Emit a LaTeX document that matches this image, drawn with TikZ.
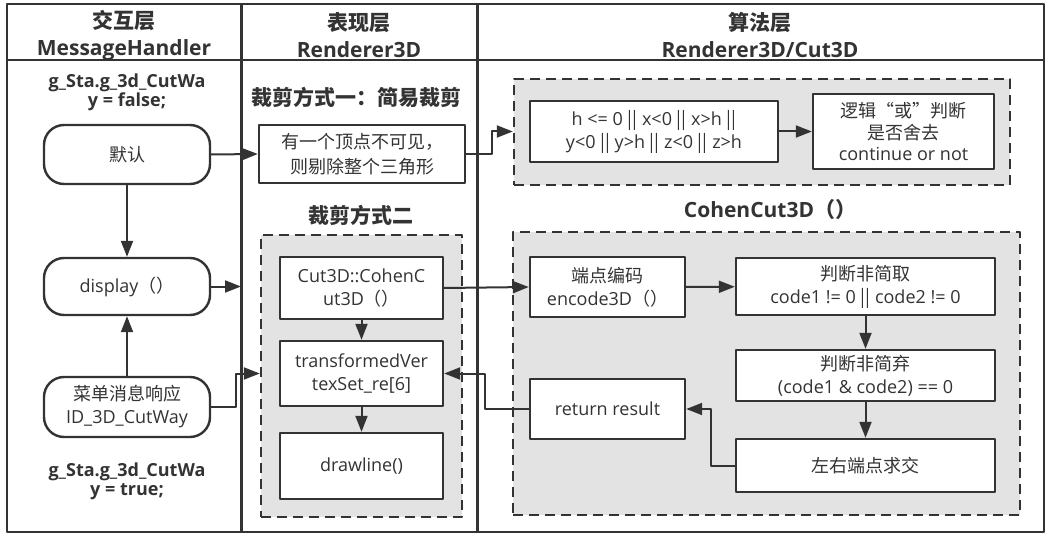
\documentclass[tikz,border=0pt]{standalone}
\usepackage{fontspec}
\setmainfont{Open Sans}
\newfontfamily\cjk{Noto Sans CJK SC}
\usetikzlibrary{arrows.meta}
\definecolor{ink}{HTML}{333333}
\definecolor{grpfill}{HTML}{E3E3E3}
\newcommand\orbar{{\cjk ||}}

\begin{document}
\begin{tikzpicture}[x=1pt, y=-1pt, line join=round, >={Triangle[length=16pt,width=12pt]},
	font=\fontsize{18}{23}\selectfont, text=ink,
	box/.style={draw=ink, line width=2.4pt, fill=white, align=center, inner sep=0pt},
	term/.style={box, rounded corners=20pt},
	grpbox/.style={draw=ink, fill=grpfill, line width=2.4pt, dash pattern=on 10pt off 6pt, inner sep=0pt},
	title/.style={font=\fontsize{21}{27}\selectfont\bfseries, align=center},
	note/.style={font=\fontsize{18}{19}\selectfont\bfseries, align=center},
	conn/.style={->, draw=ink, line width=2pt}]
	\useasboundingbox (0,0) rectangle (1054,537);
	% frame and lanes
	\draw[ink, line width=2pt] (7,4) rectangle (1044,532);
	\draw[ink, line width=2pt] (7,60) -- (1044,60);
	\foreach \x in {241,477}
	\draw[ink, line width=3pt] (\x,4) -- (\x,532);
	\node[title] (hdA) at (124,35) {{\cjk 交互层}\\MessageHandler};
	\node[title] (hdB) at (359,35) {{\cjk 表现层}\\Renderer3D};
	\node[title] (hdC) at (760,35) {{\cjk 算法层}\\Renderer3D/Cut3D};
	% groups
	\node[grpbox, minimum width=201pt, minimum height=282pt] (grpB) at (361.5,376) {};
	\node[grpbox, minimum width=496pt, minimum height=106pt] (grpA) at (762,132) {};
	\node[grpbox, minimum width=507pt, minimum height=283pt] (grpC) at (766.5,373.5) {};
	% interaction lane
	\node[note] (stF) at (127,92.5) {g\_Sta.g\_3d\_CutWa\\y = false;};
	\node[term, minimum width=166pt, minimum height=59pt] (dflt) at (127,154.5) {\cjk 默认};
	\node[term, minimum width=166pt, minimum height=57pt] (disp) at (127,286.5) {display{\cjk （）}};
	\node[term, minimum width=166pt, minimum height=60pt] (menu) at (127,407) {{\cjk 菜单消息响应}\\ID\_3D\_CutWay};
	\node[note] (stT) at (127,481) {g\_Sta.g\_3d\_CutWa\\y = true;};
	% renderer lane
	\node[title] (cutA) at (356,97) {\cjk 裁剪方式一：简易裁剪};
	\node[box, minimum width=206pt, minimum height=58pt, font=\fontsize{18}{25}\selectfont] (simp) at (362,154) {{\cjk 有一个顶点不可见，}\\{\cjk 则剔除整个三角形}};
	\node[title] (cutB) at (361,215) {\cjk 裁剪方式二};
	\node[box, minimum width=163pt, minimum height=62pt] (cohen) at (361.5,288) {Cut3D::CohenC\\ut3D{\cjk （）}};
	\node[box, minimum width=163pt, minimum height=65pt] (trans) at (361.5,373.5) {transformedVer\\texSet\_re[6]};
	\node[box, minimum width=163pt, minimum height=66pt] (drawl) at (361.5,466) {drawline()};
	% algorithm lane
	\node[box, minimum width=248pt, minimum height=61pt] (cond) at (654,131.5) {h <= 0 \orbar{} x<0 \orbar{} x>h \orbar\\y<0 \orbar{} y>h \orbar{} z<0 \orbar{} z>h};
	\node[box, minimum width=181pt, minimum height=75pt, font=\fontsize{18}{21.5}\selectfont] (orbx) at (903.5,131.5) {{\cjk 逻辑“或”判断}\\{\cjk 是否舍去}\\continue or not};
	\node[title] (ccut) at (770,210) {CohenCut3D{\cjk （）}};
	\node[box, minimum width=155pt, minimum height=60pt] (enc) at (607.5,287) {{\cjk 端点编码}\\encode3D{\cjk （）}};
	\node[box, minimum width=259pt, minimum height=57pt] (acc) at (865.5,286.5) {{\cjk 判断非简取}\\code1 != 0 \orbar{} code2 != 0};
	\node[box, minimum width=259pt, minimum height=51pt] (rej) at (865.5,375.5) {{\cjk 判断非简弃}\\(code1 \& code2) == 0};
	\node[box, minimum width=259pt, minimum height=53pt] (isect) at (865.5,465.5) {\cjk 左右端点求交};
	\node[box, minimum width=155pt, minimum height=60pt] (ret) at (607.5,409) {return result};
	% connectors
	\coordinate (dispEnd) at (241,286.5);
	\foreach \a/\b in {dflt/disp, menu/disp, cohen/trans, trans/drawl, cond/orbx, enc/acc, acc/rej, rej/isect}
	\draw[conn] (\a) -- (\b);
	\draw[conn] (dflt.east) -- (simp.west);
	\draw[conn] (disp.east) -- (dispEnd);
	\draw[conn] (menu.east) -- ++(25,0) |- (grpB.west |- trans);
	\draw[conn] (simp.east) -- ++(26,0) |- (grpA.west |- cond);
	\draw[conn] (cohen.east) -- (enc.west);
	\draw[conn] (isect.west) -- ++(-24,0) |- (ret.east);
	\draw[conn] (ret.west) -- ++(-44,0) |- (trans.east);
\end{tikzpicture}
\end{document}
